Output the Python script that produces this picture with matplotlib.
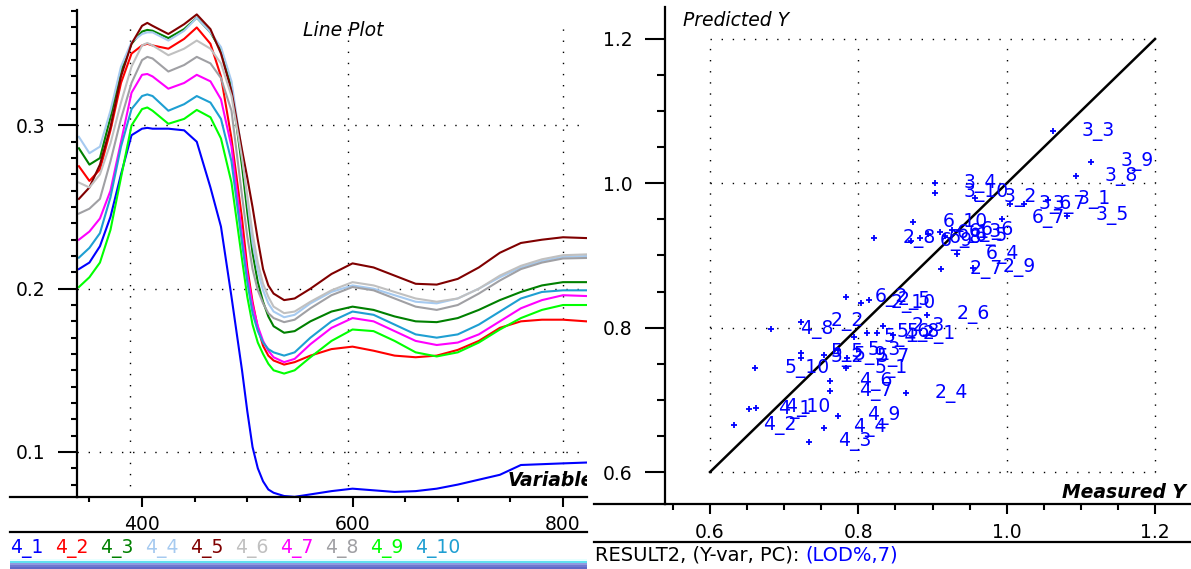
import matplotlib
matplotlib.use('Agg')
import matplotlib.pyplot as plt
from matplotlib.ticker import MultipleLocator
from matplotlib.lines import Line2D
import numpy as np

plt.rcParams['font.family'] = ['DejaVu Sans']

# spectra (wavelength, value)
wl = [340, 350, 360, 370, 380, 390, 400, 405, 410, 425, 440, 452, 465, 475, 485, 495,
      500, 505, 510, 515, 520, 525,
      535, 545, 560, 580, 600, 620, 640, 660, 680, 700, 720, 740, 760, 780, 800, 822]
s4_1 = [.212, .216, .226, .244, .270, .294, .298, .2985, .298, .298, .297, .290, .262, .238, .195, .150,
        .125, .103, .090, .082, .077, .075,
        .073, .0725, .074, .076, .0775, .0765, .0755, .076, .0775, .080, .083, .086, .092, .0925, .093, .0935]
s4_2 = [.275, .266, .273, .297, .326, .344, .349, .350, .349, .347, .353, .360, .350, .330, .292, .243,
        .213, .192, .176, .165, .159, .156,
        .1535, .155, .159, .163, .1645, .162, .159, .158, .159, .1625, .168, .176, .180, .181, .181, .180]
s4_3 = [.286, .276, .280, .305, .333, .350, .3575, .3585, .358, .3535, .359, .366, .357, .346, .323, .275,
        .247, .222, .204, .192, .183, .177,
        .173, .174, .180, .186, .189, .187, .183, .180, .1795, .182, .187, .193, .198, .202, .204, .204]
s4_4 = [.293, .283, .287, .309, .336, .351, .356, .357, .357, .352, .358, .366, .357, .348, .327, .283,
        .255, .228, .211, .199, .191, .186,
        .1825, .184, .191, .198, .202, .200, .196, .192, .191, .194, .200, .207, .213, .217, .2195, .220]
s4_5 = [.255, .262, .276, .299, .330, .350, .361, .3628, .361, .356, .362, .368, .359, .344, .321, .285,
        .268, .250, .230, .212, .202, .197,
        .193, .194, .200, .209, .2155, .213, .208, .203, .2025, .206, .213, .222, .228, .230, .2315, .231]
s4_6 = [.265, .262, .270, .289, .314, .336, .349, .3505, .349, .343, .347, .352, .347, .338, .318, .280,
        .257, .234, .216, .203, .195, .189,
        .185, .186, .192, .199, .204, .202, .198, .194, .192, .194, .200, .208, .214, .218, .2205, .221]
s4_7 = [.230, .235, .243, .260, .290, .320, .331, .3315, .330, .3225, .326, .331, .327, .316, .287, .233,
        .209, .190, .177, .168, .162, .158,
        .155, .157, .166, .176, .182, .180, .174, .168, .1655, .167, .172, .180, .188, .193, .196, .1955]
s4_8 = [.246, .249, .255, .278, .304, .326, .340, .342, .341, .333, .337, .342, .338, .329, .309, .257,
        .232, .212, .199, .191, .185, .182,
        .1795, .181, .188, .196, .201, .199, .194, .189, .187, .190, .197, .205, .212, .216, .2185, .2188]
s4_9 = [.201, .207, .216, .236, .268, .300, .310, .311, .309, .301, .304, .3095, .305, .292, .265, .218,
        .195, .178, .167, .160, .154, .150,
        .148, .150, .158, .168, .175, .174, .168, .161, .1585, .161, .167, .175, .182, .187, .190, .190]
s4_10 = [.219, .225, .234, .256, .287, .310, .318, .319, .318, .309, .313, .318, .314, .304, .278, .228,
         .204, .185, .174, .167, .163, .161,
         .159, .161, .170, .180, .186, .184, .178, .172, .170, .172, .178, .186, .194, .198, .199, .199]

series_names = ['4_1', '4_2', '4_3', '4_4', '4_5', '4_6', '4_7', '4_8', '4_9', '4_10']
series = [s4_1, s4_2, s4_3, s4_4, s4_5, s4_6, s4_7, s4_8, s4_9, s4_10]
colors = ['#0000ff', '#ff0000', '#008000', '#a6caf0', '#800000',
          '#c0c0c0', '#ff00ff', '#a0a0a4', '#00ff00', '#1e9fd2']

# predicted vs measured
names = ['3_3', '3_9', '3_8', '3_4', '3_10', '3_2', '3_6', '3_7', '3_1', '3_5',
         '6_7', '6_10', '6_1', '2_8', '6_9', '6_5', '6_6', '6_4', '2_7', '2_9',
         '6_2', '2_10', '2_5', '2_6', '2_2', '4_8', '2_3', '5_4', '5_6', '5_8', '2_1',
         '5_5', '5_2', '5_9', '5_7', '5_3', '5_1', '5_10', '4_6', '4_7', '2_4',
         '4_1', '4_10', '4_9', '4_2', '4_4', '4_3', '6_3', '6_8']
meas = [1.062, 1.114, 1.093, 0.903, 0.903, 0.957, 1.004, 1.023, 1.056, 1.081,
        0.994, 0.874, 0.894, 0.821, 0.871, 0.917, 0.926, 0.933, 0.911, 0.955,
        0.783, 0.804, 0.814, 0.893, 0.723, 0.682, 0.833, 0.794, 0.812, 0.825, 0.847,
        0.723, 0.723, 0.754, 0.785, 0.773, 0.783, 0.661, 0.762, 0.762, 0.864,
        0.652, 0.662, 0.773, 0.632, 0.754, 0.733, 0.910, 0.883]
pred = [1.072, 1.030, 1.010, 1.000, 0.987, 0.980, 0.971, 0.971, 0.977, 0.955,
        0.951, 0.946, 0.930, 0.924, 0.920, 0.927, 0.935, 0.902, 0.881, 0.883,
        0.842, 0.834, 0.838, 0.818, 0.808, 0.798, 0.802, 0.787, 0.793, 0.793, 0.790,
        0.765, 0.758, 0.762, 0.758, 0.769, 0.744, 0.744, 0.726, 0.712, 0.709,
        0.687, 0.689, 0.678, 0.665, 0.661, 0.642, 0.9325, 0.924]

W, H = 1191, 569
fig = plt.figure(figsize=(W / 100, H / 100), dpi=100)


def fx(px):
    return px / W


def fy(py):
    return 1 - py / H


dots = (0, (1, 7))
FS = 13.5

# ---- left: line plot
ax1 = fig.add_axes([fx(77), fy(497), fx(587) - fx(77), fy(10) - fy(497)])
for gx in [389, 596, 800]:
    ax1.plot([gx, gx], [0.0724, 0.363], color='k', lw=1, ls=dots, zorder=1)
for gy in [0.1, 0.2, 0.3]:
    ax1.axhline(gy, color='k', lw=1, ls=dots, zorder=1)
for vals, col in zip(series, colors):
    ax1.plot(wl, vals, color=col, lw=1.5, zorder=2, solid_joinstyle='round')
ax1.set_xlim(338.2, 822.8)
ax1.set_ylim(0.0724, 0.3707)
ax1.set_xticks([400, 600, 800])
ax1.set_yticks([0.1, 0.2, 0.3])
ax1.xaxis.set_minor_locator(MultipleLocator(50))
ax1.yaxis.set_minor_locator(MultipleLocator(0.01))
ax1.tick_params(axis='y', which='major', length=13.7, width=1.5, pad=9, labelsize=FS)
ax1.tick_params(axis='y', which='minor', length=4.3, width=1.5)
ax1.tick_params(axis='x', which='major', length=7.2, width=1.5, pad=5.5, labelsize=FS)
ax1.tick_params(axis='x', which='minor', length=3.6, width=1.5)
for s in ['top', 'right']:
    ax1.spines[s].set_visible(False)
for s in ['left', 'bottom']:
    ax1.spines[s].set_linewidth(1.6)
ax1.text((508 - 77) / 510, (497 - 481) / 487, 'Variable', transform=ax1.transAxes,
         fontsize=FS, style='italic', fontweight='bold', va='center', ha='left', clip_on=True)
fig.text(fx(303), fy(30), 'Line Plot', fontsize=FS, style='italic', va='center', ha='left')

# ---- right: predicted vs measured
ax2 = fig.add_axes([fx(665), fy(504), fx(1191) - fx(665), fy(7) - fy(504)])
for g in [0.6, 0.8, 1.0, 1.2]:
    ax2.plot([g, g], [0.6, 1.2], color='k', lw=1, ls=dots, zorder=1)
    ax2.plot([0.6, 1.2], [g, g], color='k', lw=1, ls=dots, zorder=1)
ax2.plot([0.6, 1.2], [0.6, 1.2], color='k', lw=1.8, zorder=2)
ax2.plot(meas, pred, ls='none', marker='+', ms=4.5, mew=1.3, color='#0000ff', zorder=3)
for m, p, n in zip(meas, pred, names):
    ax2.annotate(n, (m, p), xytext=(21, 0), textcoords='offset points', color='#0000ff',
                 fontsize=FS, va='center', ha='left', zorder=4)
ax2.set_xlim(0.5393, 1.2485)
ax2.set_ylim(0.5557, 1.2443)
ax2.set_xticks([0.6, 0.8, 1.0, 1.2], ['0.6', '0.8', '1.0', '1.2'])
ax2.set_yticks([0.6, 0.8, 1.0, 1.2], ['0.6', '0.8', '1.0', '1.2'])
ax2.xaxis.set_minor_locator(MultipleLocator(0.05))
ax2.yaxis.set_minor_locator(MultipleLocator(0.05))
ax2.tick_params(axis='y', which='major', length=14.4, width=1.5, pad=9, labelsize=FS)
ax2.tick_params(axis='y', which='minor', length=5.8, width=1.5)
ax2.tick_params(axis='x', which='major', length=7.5, width=1.5, pad=6.5, labelsize=FS)
ax2.tick_params(axis='x', which='minor', length=4.3, width=1.5)
for s in ['top', 'right']:
    ax2.spines[s].set_visible(False)
for s in ['left', 'bottom']:
    ax2.spines[s].set_linewidth(1.6)
fig.text(fx(683), fy(20), 'Predicted Y', fontsize=FS, style='italic', va='center', ha='left')
fig.text(fx(1186), fy(492), 'Measured Y', fontsize=FS, style='italic', fontweight='bold',
         va='center', ha='right')

# ---- frame lines under the axes
for x0, x1, y in [(10, 77, 497), (10, 587, 532), (594, 665, 504), (594, 1191, 542)]:
    fig.add_artist(Line2D([fx(x0), fx(x1)], [fy(y), fy(y)], color='k', lw=1.6))

# legend row
for i, (n, col) in enumerate(zip(series_names, colors)):
    fig.text(fx(10 + 45 * i), fy(548), n, color=col, fontsize=FS, va='center', ha='left')

# gradient bar
gax = fig.add_axes([fx(10), 0, fx(587) - fx(10), 10 / H])
grad = np.array([[[232, 255, 255]], [[96, 224, 240]], [[144, 152, 224]], [[112, 120, 208]], [[96, 104, 200]]]) / 255
gax.imshow(grad, aspect='auto', extent=(0, 1, 0, 1))
gax.axis('off')

t1 = fig.text(fx(595), fy(555), 'RESULT2, (Y-var, PC): ', fontsize=14, va='center', ha='left')
ax2.annotate('(LOD%,7)', xy=(1, 0.5), xycoords=t1, va='center', ha='left',
             color='#0000ff', fontsize=14, annotation_clip=False)

fig.savefig('out.png', dpi=100)
